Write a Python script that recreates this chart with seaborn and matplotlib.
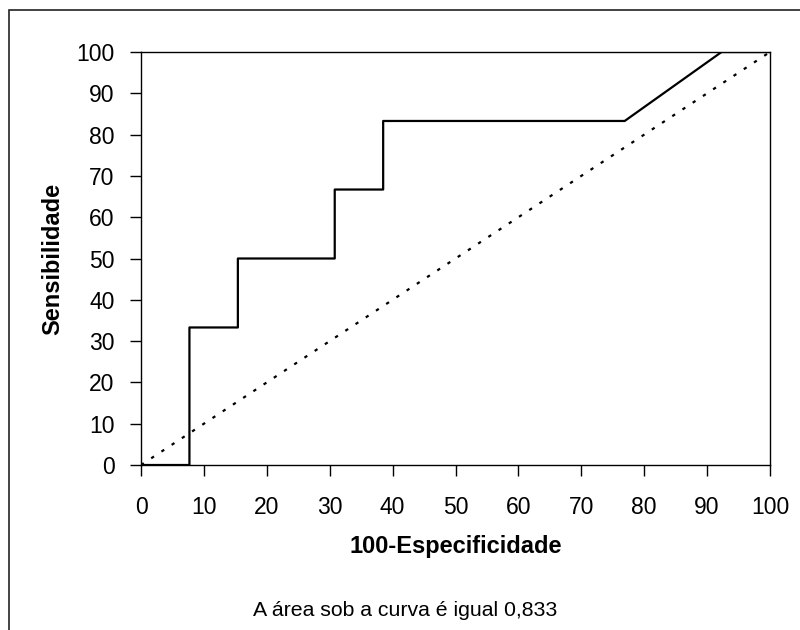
import matplotlib
matplotlib.use("Agg")
import matplotlib.pyplot as plt
import seaborn as sns
import pandas as pd
from matplotlib.patches import Rectangle

# Data
fpr = [0, 7.7, 7.7, 15.4, 15.4, 30.8, 30.8, 38.5, 38.5, 76.9, 92.3, 100]
tpr = [0, 0, 33.3, 33.3, 50, 50, 66.7, 66.7, 83.3, 83.3, 100, 100]
diag_x = [0, 100]
diag_y = [0, 100]
ticks = list(range(0, 101, 10))
xlabel = "100-Especificidade"
ylabel = "Sensibilidade"
note = "A área sob a curva é igual 0,833"

sns.set_style("white")
plt.rcParams['font.family'] = ['Liberation Sans', 'DejaVu Sans']
plt.rcParams['text.color'] = 'black'
plt.rcParams['axes.labelcolor'] = 'black'
plt.rcParams['xtick.color'] = 'black'
plt.rcParams['ytick.color'] = 'black'

fig = plt.figure(figsize=(8, 6.3), dpi=100)
L, R, T, B = 141, 770, 52, 465
ax = fig.add_axes([L/800, 1-B/630, (R-L)/800, (B-T)/630])

roc = pd.DataFrame({"x": fpr, "y": tpr})
diag = pd.DataFrame({"x": diag_x, "y": diag_y})
sns.lineplot(data=diag, x="x", y="y", ax=ax, sort=False, estimator=None,
             color="black", lw=1.6, linestyle=(0, (1.5, 4)))
sns.lineplot(data=roc, x="x", y="y", ax=ax, sort=False, estimator=None,
             color="black", lw=1.6)

ax.set_xlim(0, 100)
ax.set_ylim(0, 100)
ax.set_xticks(ticks)
ax.set_yticks(ticks)
ax.tick_params(axis="both", direction="out", length=8, width=1, color="black",
               labelsize=16.5, labelcolor="black", bottom=True, left=True)
ax.tick_params(axis="y", pad=11)
ax.tick_params(axis="x", pad=14)
for s in ax.spines.values():
    s.set_visible(True)
    s.set_color("black")
    s.set_linewidth(1)
ax.set_xlabel(xlabel, fontsize=17, fontweight="bold", va="center")
ax.set_ylabel(ylabel, fontsize=17, fontweight="bold", va="center")
ax.xaxis.set_label_coords(0.5, (B-546)/(B-T))
ax.yaxis.set_label_coords((53-L)/(R-L), 0.5)

fig.text(405/800, 1-611/630, note, ha="center", va="center", fontsize=15.3)

fig.patches.append(Rectangle((9/800, -0.1), 1.0, 1.1 - 10/630, transform=fig.transFigure,
                             fill=False, edgecolor="#222222", lw=1.2))

fig.savefig("out.png", dpi=100)
